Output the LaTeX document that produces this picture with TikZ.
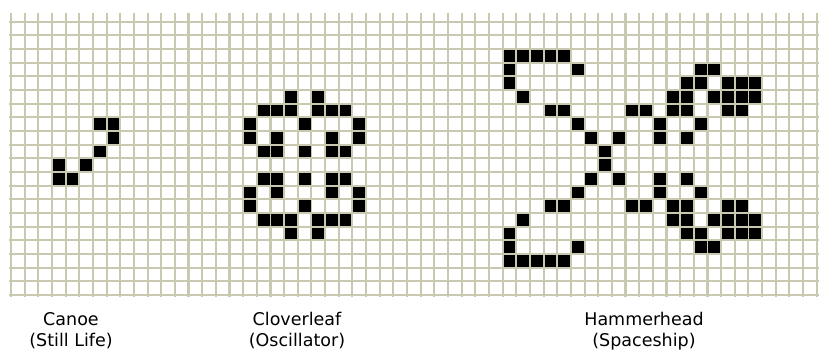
\documentclass[tikz,border=0pt]{standalone}
\usepackage{fontspec}
\setmainfont{DejaVu Sans}
\definecolor{gridc}{RGB}{200,201,176}
\begin{document}
\begin{tikzpicture}[x=1pt,y=-1pt,
  gridline/.style={draw=gridc, line width=2.1pt},
  cell/.style={fill=black},
  lbl/.style={font=\fontsize{17.5}{21}\selectfont, align=center, text=black, inner sep=0pt}]
\useasboundingbox (0,0) rectangle (820,351);
\fill[white] (0,0) rectangle (820,351);
% grid
\foreach \k in {0,...,59}
  \draw[gridline] ({11+13.656*\k},12.5) -- ({11+13.656*\k},296.5);
\foreach \j in {0,...,20}
  \draw[gridline] (9,{21.7+13.66*\j}) -- (819,{21.7+13.66*\j});
% live cells: column/row
\foreach \c/\r in {
  % Canoe
  6/7,7/7, 7/8, 6/9, 3/10,5/10, 3/11,4/11,
  % Cloverleaf
  20/5,22/5,
  18/6,19/6,20/6,22/6,23/6,24/6,
  17/7,21/7,25/7,
  17/8,19/8,23/8,25/8,
  18/9,19/9,21/9,23/9,24/9,
  18/11,19/11,21/11,23/11,24/11,
  17/12,19/12,23/12,25/12,
  17/13,21/13,25/13,
  18/14,19/14,20/14,22/14,23/14,24/14,
  20/15,22/15,
  % Hammerhead
  36/2,37/2,38/2,39/2,40/2,
  36/3,41/3,50/3,51/3,
  36/4,49/4,50/4,52/4,53/4,54/4,
  37/5,48/5,49/5,51/5,52/5,53/5,54/5,
  39/6,40/6,45/6,46/6,48/6,49/6,52/6,53/6,
  41/7,47/7,50/7,
  42/8,44/8,47/8,49/8,
  43/9,
  43/10,
  42/11,44/11,47/11,49/11,
  41/12,47/12,50/12,
  39/13,40/13,45/13,46/13,48/13,49/13,52/13,53/13,
  37/14,48/14,49/14,51/14,52/14,53/14,54/14,
  36/15,49/15,50/15,52/15,53/15,54/15,
  36/16,41/16,50/16,51/16,
  36/17,37/17,38/17,39/17,40/17}
  \fill[cell] ({11+13.656*(\c+0.5)-5.9},{21.7+13.66*(\r+0.5)-5.9}) rectangle +(11.8,11.8);
% labels
\node[lbl] (canoe) at (71,331) {Canoe\\(Still Life)};
\node[lbl] (clover) at (297,331) {Cloverleaf\\(Oscillator)};
\node[lbl] (hammer) at (644,331) {Hammerhead\\(Spaceship)};
\end{tikzpicture}
\end{document}
